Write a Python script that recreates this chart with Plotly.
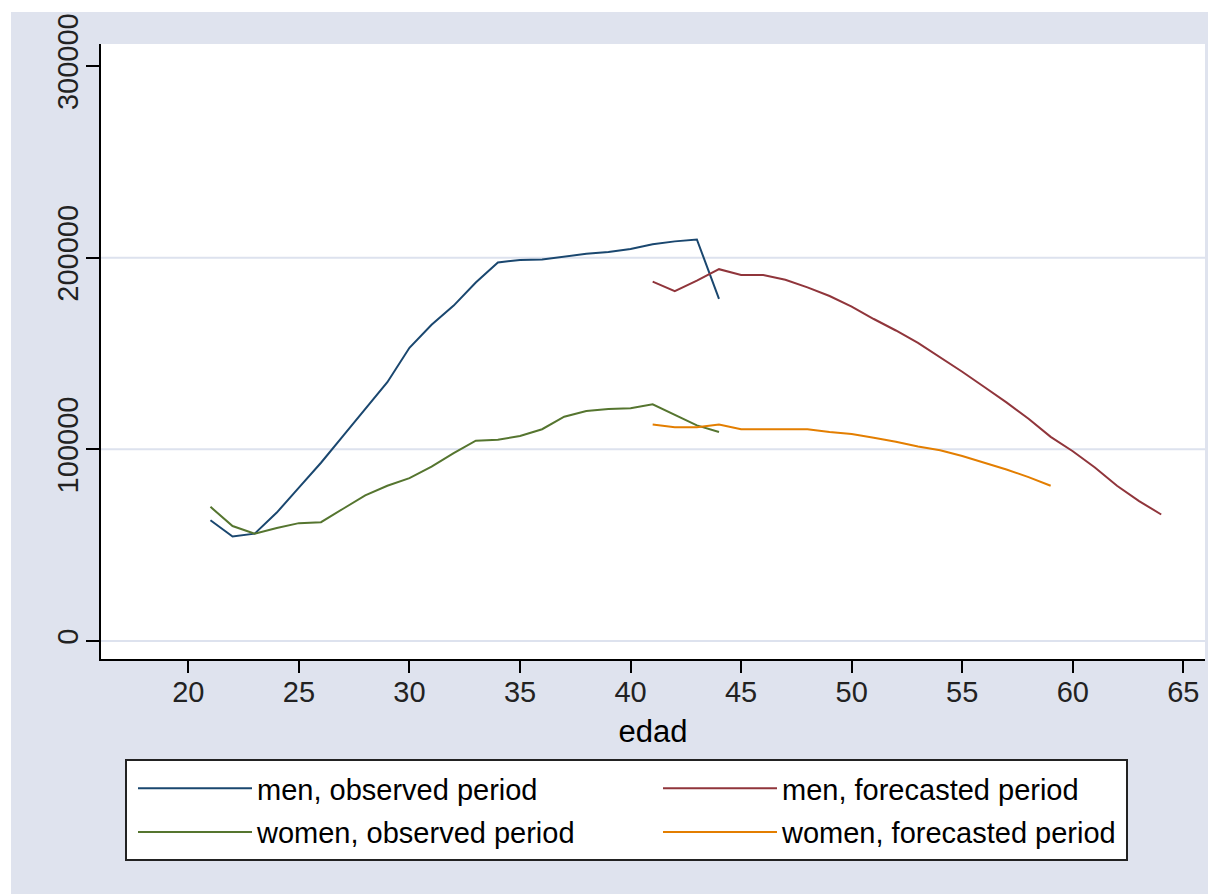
import plotly.graph_objects as go

# ---------------- data ----------------
ages_obs = list(range(21, 45))
men_obs = [63000, 54500, 56000, 67000, 80000, 93000, 107000, 121000, 135000, 153000,
           165000, 175000, 187000, 197500, 198800, 199000, 200500, 202000, 203000, 204500,
           207000, 208500, 209500, 178500]
women_obs = [70000, 60000, 56000, 59000, 61500, 62000, 69000, 76000, 81000, 85000,
             91000, 98000, 104500, 105000, 107000, 110500, 117000, 120000, 121000, 121500,
             123500, 118000, 112500, 109000]

ages_men_fc = list(range(41, 65))
men_fc = [187500, 182500, 188000, 194000, 191000, 191000, 188500, 184500, 180000, 174500,
          168000, 162000, 155500, 148000, 140500, 132500, 124500, 116000, 106500, 99000,
          90500, 81000, 73000, 66000]

ages_women_fc = list(range(41, 60))
women_fc = [113000, 111500, 111500, 113000, 110500, 110500, 110500, 110500, 109000, 108000,
            106000, 104000, 101500, 99500, 96500, 93000, 89500, 85500, 81000]

x_ticks = [20, 25, 30, 35, 40, 45, 50, 55, 60, 65]
y_ticks = [0, 100000, 200000, 300000]
y_grid = [0, 100000, 200000]

labels = ["men, observed period", "men, forecasted period",
          "women, observed period", "women, forecasted period"]

# ---------------- style ----------------
BG = "#dfe3ee"
GRID = "#dde2ee"
FONT = "Liberation Sans, Arial, sans-serif"
C_NAVY, C_MAROON, C_GREEN, C_ORANGE = "#1a476f", "#90353b", "#55752f", "#e37e00"

W, H = 1208, 886
ML, MR, MT, MB = 93, 11, 36, 235
PW, PH = W - ML - MR, H - MT - MB
PAGE_OFF = 8  # default body margin


def px_x(page_x):
    return (page_x - PAGE_OFF - ML) / PW


def px_y(page_y):
    return 1 - (page_y - PAGE_OFF - MT) / PH


fig = go.Figure()
fig.add_trace(go.Scatter(x=ages_obs, y=men_obs, mode="lines", name=labels[0],
                         line=dict(color=C_NAVY, width=2),
                         legend="legend", legendgroup="a"))
fig.add_trace(go.Scatter(x=ages_obs, y=women_obs, mode="lines", name=labels[2],
                         line=dict(color=C_GREEN, width=2),
                         legend="legend", legendgroup="b"))
fig.add_trace(go.Scatter(x=ages_men_fc, y=men_fc, mode="lines", name=labels[1],
                         line=dict(color=C_MAROON, width=2),
                         legend="legend2", legendgroup="c"))
fig.add_trace(go.Scatter(x=ages_women_fc, y=women_fc, mode="lines", name=labels[3],
                         line=dict(color=C_ORANGE, width=2),
                         legend="legend2", legendgroup="d"))

legend_common = dict(orientation="v", xanchor="left", yanchor="top",
                     bgcolor="rgba(0,0,0,0)", borderwidth=0,
                     font=dict(family=FONT, size=29, color="black"),
                     itemwidth=114, tracegroupgap=3, traceorder="grouped")

fig.update_layout(
    width=W, height=H, autosize=False,
    margin=dict(l=ML, r=MR, t=MT, b=MB, pad=0, autoexpand=False),
    paper_bgcolor=BG, plot_bgcolor="white",
    font=dict(family=FONT, size=29, color="black"),
    xaxis=dict(range=[16.05, 65.98], tickvals=x_ticks, ticks="outside", ticklen=12,
               tickwidth=2, tickcolor="black", showline=True, linecolor="black",
               linewidth=2, showgrid=False, zeroline=False, automargin=False,
               ticklabelstandoff=-6,
               tickfont=dict(family=FONT, size=29, color="#222"),
               title=dict(text="edad", font=dict(family=FONT, size=31, color="black"),
                          standoff=14)),
    yaxis=dict(range=[-9391, 311478], tickvals=y_ticks, tickformat="d",
               ticks="outside", ticklen=13, tickwidth=2, tickcolor="black",
               showline=True, linecolor="black", linewidth=2, showgrid=False,
               zeroline=False, tickangle=-90, ticklabeloverflow="allow",
               automargin=False, ticklabelstandoff=-4,
               tickfont=dict(family=FONT, size=29, color="#222")),
    legend=dict(x=px_x(133), y=px_y(763), **legend_common),
    legend2=dict(x=px_x(658), y=px_y(763), **legend_common),
    showlegend=True,
)

# horizontal grid lines (not at the top tick, as in the original)
for gv in y_grid:
    fig.add_shape(type="line", xref="paper", yref="y", layer="below",
                  x0=0, x1=1, y0=gv, y1=gv, line=dict(color=GRID, width=2))

# legend frame
fig.add_shape(type="rect", xref="paper", yref="paper", layer="above",
              x0=px_x(126), x1=px_x(1127), y0=px_y(860), y1=px_y(760),
              fillcolor="white", line=dict(color="#222", width=2))

# white outer margins (page frame)
fig.add_shape(type="rect", xref="paper", yref="paper", layer="above",
              x0=-ML / PW - 0.01, x1=-(ML - 3) / PW, y0=-1, y1=2,
              fillcolor="white", line=dict(width=0))
fig.add_shape(type="rect", xref="paper", yref="paper", layer="above",
              x0=-1, x1=2, y0=1 + (MT - 4) / PH, y1=2,
              fillcolor="white", line=dict(width=0))

fig.write_html("out.html")
